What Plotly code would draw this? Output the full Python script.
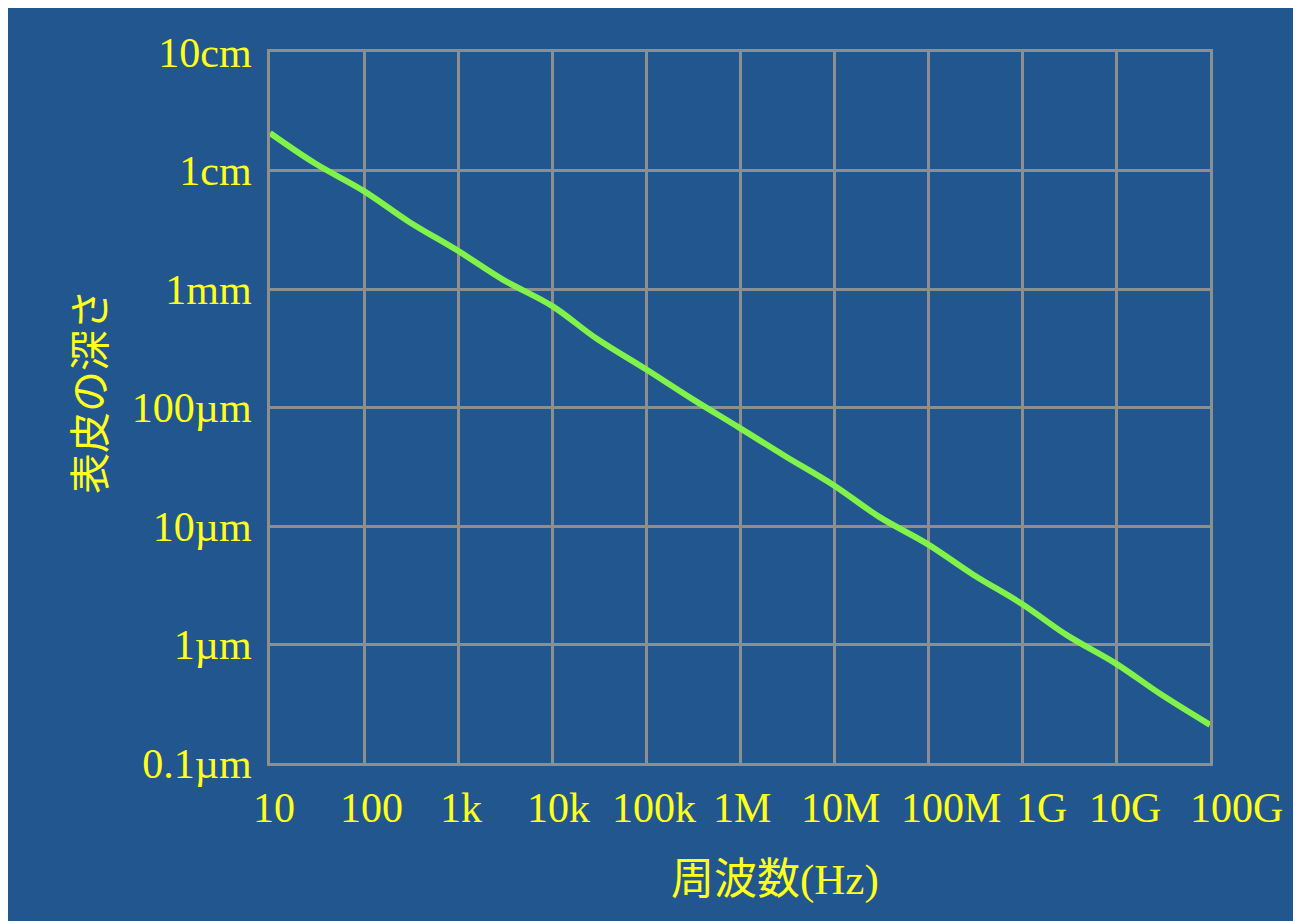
import math
import plotly.graph_objects as go

# Frequency (Hz) and skin depth (m)
freq_hz = [10, 30, 100, 300, 1e3, 3e3, 1e4, 3e4, 1e5, 3e5, 1e6, 3e6, 1e7, 3e7,
           1e8, 3e8, 1e9, 3e9, 1e10, 3e10, 1e11]
depth_m = [2.07e-2, 1.15e-2, 6.7e-3, 3.7e-3, 2.1e-3, 1.2e-3, 7.2e-4, 3.8e-4,
           2.1e-4, 1.2e-4, 6.7e-5, 3.9e-5, 2.2e-5, 1.2e-5, 7.0e-6, 3.9e-6,
           2.2e-6, 1.2e-6, 6.9e-7, 3.8e-7, 2.1e-7]

x_tickvals = [1e1, 1e2, 1e3, 1e4, 1e5, 1e6, 1e7, 1e8, 1e9, 1e10, 1e11]
x_ticktext = ["10", "100", "1k", "10k", "100k", "1M", "10M", "100M", "1G", "10G", "100G"]
y_tickvals = [1e-7, 1e-6, 1e-5, 1e-4, 1e-3, 1e-2, 1e-1]
y_ticktext = ["0.1µm", "1µm", "10µm", "100µm", "1mm", "1cm", "10cm"]

x_title = "周波数(Hz)"
y_title = "表皮の深さ"

# horizontal nudges (px) of the x tick labels, as placed in the original
x_label_shift = [4, 7, 3, 6, 8, 2, 6, 23, 19, 9, 26]

BG = "#22568f"
GRID = "#8e8e8e"
YELLOW = "#ffff1a"
GREEN = "#80f24a"
FONT = "Liberation Serif, Noto Sans CJK JP, serif"

# page offset of the figure (body margin)
OX, OY = 8, 7
L, R, T, B = 270 - OX, 1210 - OX, 51 - OY, 762 - OY
W, H = 1301 - OX, 921 - OY
pw, ph = R - L, B - T

def px(x):
    return (x - OX - L) / pw

def py(y):
    return (B - (y - OY)) / ph

fig = go.Figure()
fig.add_trace(go.Scatter(x=freq_hz, y=depth_m, mode="lines",
                         line=dict(color=GREEN, width=6, shape="spline"),
                         showlegend=False, hoverinfo="skip"))

axis_common = dict(type="log", showgrid=True, gridcolor=GRID, gridwidth=3,
                   showline=True, linecolor=GRID, linewidth=3, mirror=True,
                   zeroline=False, ticks="",
                   tickfont=dict(family=FONT, size=42, color=YELLOW))

fig.update_xaxes(range=[1, 11], tickvals=x_tickvals, ticktext=x_ticktext,
                 showticklabels=False, **axis_common)
fig.update_yaxes(range=[-7, -1], tickvals=y_tickvals, ticktext=y_ticktext,
                 ticklabelstandoff=7, **axis_common)

# x tick labels as text placed on the x axis scale
for v, t, s in zip(x_tickvals, x_ticktext, x_label_shift):
    fig.add_annotation(text=t, xref="x", yref="paper", x=math.log10(v),
                       y=py(807), xanchor="center", yanchor="middle",
                       xshift=s, showarrow=False,
                       font=dict(family=FONT, size=42, color=YELLOW))

fig.add_annotation(text=x_title, xref="paper", yref="paper",
                   x=px(775), y=py(879), xanchor="center", yanchor="middle",
                   showarrow=False,
                   font=dict(family=FONT, size=43, color=YELLOW))
fig.add_annotation(text=y_title, xref="paper", yref="paper",
                   x=px(87), y=py(391), xanchor="center", yanchor="middle",
                   showarrow=False, textangle=-90,
                   font=dict(family="Noto Sans CJK JP, sans-serif", size=41, color=YELLOW))

fig.update_layout(width=W, height=H,
                  margin=dict(l=L, r=W - R, t=T, b=H - B),
                  paper_bgcolor=BG, plot_bgcolor=BG)

fig.write_html("out.html")
